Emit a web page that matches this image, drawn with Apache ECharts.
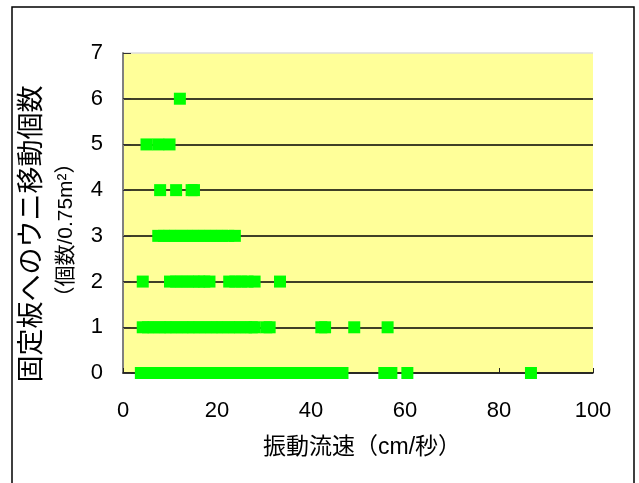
<!DOCTYPE html>
<html>
<head>
<meta charset="utf-8">
<script src="https://cdn.jsdelivr.net/npm/echarts@6/dist/echarts.min.js"></script>
<style>html,body{margin:0;padding:0;background:#fff}#c{width:639px;height:483px}</style>
</head>
<body>
<div id="c"></div>
<script>
// Flow speed (cm/s) readings for each count level of urchins moved onto the plate
const speedsAt0 = [3.8, 5.1, 6.3, 7.4, 8.6, 9.9, 11.2, 12.5, 13.7, 14.8, 16.1, 17.3, 18.6, 19.9, 21.0, 22.4, 23.6, 24.9, 26.2, 27.5, 28.7, 30.0, 31.3, 32.6, 33.8, 35.1, 36.4, 37.6, 38.9, 40.2, 41.5, 42.7, 44.0, 45.3, 46.7, 55.6, 57.1, 60.5, 86.8];
const speedsAt1 = [4.2, 5.3, 6.5, 7.8, 9.0, 10.1, 11.4, 12.6, 13.9, 15.0, 16.3, 17.5, 18.8, 20.0, 21.2, 22.5, 23.7, 24.9, 26.2, 27.4, 28.0, 30.5, 31.2, 42.2, 43.0, 49.2, 56.3];
const speedsAt2 = [4.2, 10.0, 11.3, 12.5, 13.8, 15.0, 16.2, 17.3, 18.4, 22.6, 23.9, 25.2, 26.5, 28.0, 33.4];
const speedsAt3 = [7.5, 8.7, 9.9, 11.1, 12.4, 13.6, 14.9, 16.1, 17.4, 18.6, 19.9, 21.1, 22.4, 23.8];
const speedsAt4 = [7.9, 11.3, 14.6, 15.1];
const speedsAt5 = [5.0, 7.5, 9.9];
const speedsAt6 = [12.1];
const countLevels = [0, 1, 2, 3, 4, 5, 6];
const speedGroups = [speedsAt0, speedsAt1, speedsAt2, speedsAt3, speedsAt4, speedsAt5, speedsAt6];
const xTitle = '振動流速（cm/秒）';
const yTitle1 = '固定板へのウニ移動個数';
const yTitle2 = '（個数/0.75m²）';

const points = [];
speedGroups.forEach((arr, i) => arr.forEach(v => points.push([v, countLevels[i]])));

const numFont = 'Liberation Sans, Arial, sans-serif';
const jpFont = 'Liberation Sans, Noto Sans CJK JP, sans-serif';

const chart = echarts.init(document.getElementById('c'));
chart.setOption({
  animation: false,
  backgroundColor: '#ffffff',
  grid: { left: 123, right: 46, top: 53, bottom: 110, show: true, backgroundColor: '#FFFF99', borderWidth: 0 },
  xAxis: {
    type: 'value', min: 0, max: 100, interval: 20,
    axisLine: { show: true, onZero: false, lineStyle: { color: '#222', width: 1.5 } },
    axisTick: { show: true, inside: true, length: 5, lineStyle: { color: '#222' } },
    axisLabel: { margin: 27, color: '#000', fontSize: 22, fontFamily: numFont },
    splitLine: { show: false }
  },
  yAxis: {
    type: 'value', min: 0, max: 7, interval: 1,
    axisLine: { show: true, lineStyle: { color: '#808080', width: 2 } },
    axisTick: { show: true, inside: true, length: 8, lineStyle: { color: '#333' } },
    axisLabel: { margin: 20, color: '#000', fontSize: 22, fontFamily: numFont, padding: [11, 0, 0, 0] },
    splitLine: { show: true, lineStyle: { color: ['#000', '#000', '#000', '#000', '#000', '#000', '#000', '#dddddd'], width: 1.5 } }
  },
  series: [{
    type: 'scatter',
    data: points,
    symbol: 'rect',
    symbolSize: 12,
    itemStyle: { color: '#00ff00', opacity: 1 },
    z: 3
  }],
  graphic: [
    { type: 'rect', shape: { x: 12, y: 7, width: 622, height: 500 }, style: { fill: 'none', stroke: '#000', lineWidth: 1.5 }, silent: true, z: 100 },
    { type: 'text', x: 362, y: 448, style: { text: xTitle, font: '23px ' + jpFont, fill: '#000', textAlign: 'center', textVerticalAlign: 'middle' } },
    { type: 'text', x: 33, y: 234, rotation: Math.PI / 2, style: { text: yTitle1, font: '27px ' + jpFont, fill: '#000', textAlign: 'center', textVerticalAlign: 'middle' } },
    { type: 'text', x: 66, y: 230, rotation: Math.PI / 2, style: { text: yTitle2, font: '21px ' + jpFont, fill: '#000', textAlign: 'center', textVerticalAlign: 'middle' } }
  ]
});
</script>
</body>
</html>
